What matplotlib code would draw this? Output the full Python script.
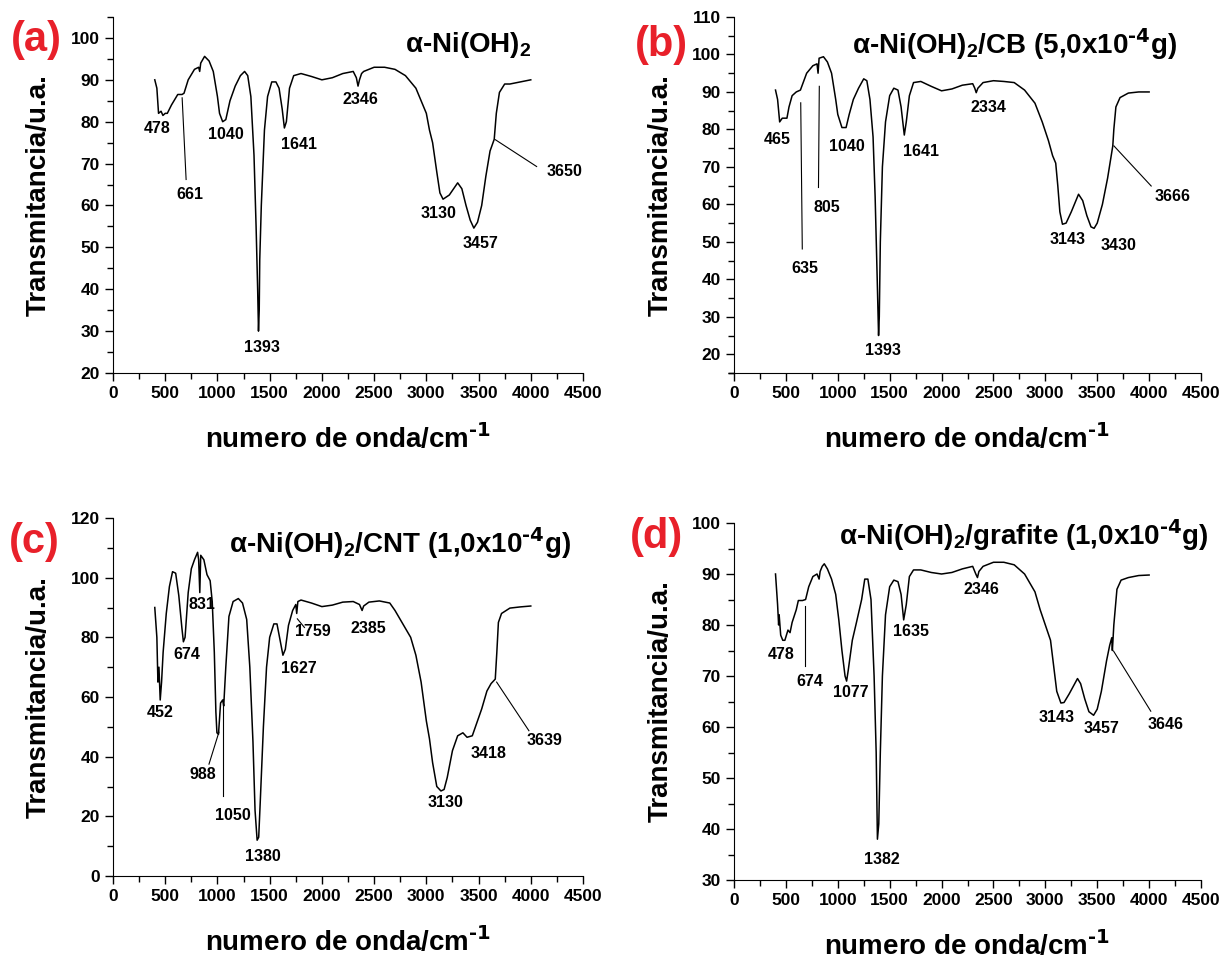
import matplotlib
matplotlib.use('Agg')
import matplotlib.pyplot as plt

plt.rcParams['font.family'] = ['Liberation Sans', 'DejaVu Sans']
plt.rcParams['font.weight'] = 'bold'
plt.rcParams['mathtext.default'] = 'regular'

# --- panel (a): alpha-Ni(OH)2 ---
xa = [400, 420, 436, 460, 478, 500, 520, 560, 620, 661, 680, 720, 780, 820, 830, 840, 877, 920, 960,
      1000, 1020, 1050, 1080, 1120, 1170, 1220, 1260, 1290, 1320, 1350, 1370, 1385, 1393, 1400, 1405,
      1420, 1450, 1480, 1520, 1560, 1590, 1620, 1641, 1660, 1690, 1730, 1800, 1900, 2000, 2100, 2200,
      2300, 2330, 2346, 2360, 2380, 2400, 2500, 2600, 2700, 2800, 2900, 2950, 3000, 3030, 3060, 3100,
      3130, 3160, 3220, 3300, 3340, 3380, 3420, 3455, 3490, 3530, 3570, 3610, 3650, 3670, 3700, 3750,
      3800, 3900, 4000]
ya = [90, 88, 82, 82.5, 81.5, 82, 82, 84, 86.5, 86.5, 86.8, 90, 92.5, 93, 92, 94, 95.6, 94.5, 92,
      86, 82, 80, 80.5, 85, 88.5, 91, 92, 91, 86, 72, 55, 40, 30, 35, 47,
      60, 78, 86, 89.5, 89.5, 88, 83, 78.5, 80, 88, 91, 91.5, 90.8, 90, 90.5, 91.5,
      92, 90.5, 88.5, 90, 91.5, 92, 93, 93, 92.5, 91, 88, 85, 82, 78, 75, 68,
      63, 61.5, 62.5, 65.4, 64, 60, 56.5, 54.6, 56, 60, 67, 73, 75.8, 82, 87, 89,
      89, 89.5, 90]

# --- panel (b): alpha-Ni(OH)2/CB ---
xb = [400, 420, 440, 465, 480, 510, 530, 560, 600, 640, 660, 700, 760, 800, 810, 820, 862, 900, 940,
      980, 1000, 1040, 1080, 1110, 1150, 1200, 1250, 1280, 1310, 1340, 1360, 1380, 1393, 1400, 1410,
      1430, 1460, 1500, 1540, 1580, 1610, 1641, 1660, 1690, 1730, 1800, 1900, 2000, 2100, 2200, 2300,
      2320, 2334, 2350, 2400, 2500, 2600, 2700, 2800, 2900, 2970, 3030, 3070, 3100, 3120, 3140, 3165,
      3200, 3250, 3320, 3360, 3400, 3440, 3470, 3500, 3550, 3600, 3650, 3660, 3680, 3720, 3800, 3900,
      4000]
yb = [90.5, 88, 82, 83, 83, 83, 86, 89, 90, 90.5, 92, 95, 97, 97.5, 95, 99, 99.4, 98, 95,
      88, 84, 80.5, 80.5, 84, 88, 91, 93.5, 93, 88, 78, 62, 40, 25, 30, 50,
      70, 82, 89, 91, 90.5, 86, 78.5, 82, 89, 92.5, 92.8, 91.5, 90.3, 90.8, 91.8, 92.2,
      91, 89.8, 91, 92.5, 93, 92.8, 92.5, 90.5, 87, 82, 77, 73, 71, 65, 58, 54.7,
      55, 58, 62.7, 61, 57, 54, 53.6, 55, 60, 67, 75.6, 80, 86, 88.5, 89.7, 90,
      90]

# --- panel (c): alpha-Ni(OH)2/CNT ---
xc = [400, 420, 430, 440, 452, 465, 480, 510, 540, 570, 600, 630, 660, 674, 690, 720, 750, 780, 810,
      820, 831, 840, 870, 900, 930, 950, 970, 985, 995, 1010, 1030, 1050, 1060, 1080, 1110, 1150, 1200,
      1240, 1280, 1310, 1340, 1360, 1380, 1395, 1410, 1440, 1470, 1500, 1540, 1570, 1600, 1627, 1650,
      1680, 1720, 1750, 1759, 1770, 1800, 1900, 2000, 2100, 2200, 2300, 2360, 2385, 2400, 2450, 2550,
      2650, 2700, 2750, 2800, 2850, 2900, 2950, 3000, 3030, 3060, 3100, 3140, 3170, 3200, 3250, 3300,
      3350, 3390, 3440, 3480, 3530, 3580, 3620, 3660, 3675, 3690, 3720, 3800, 3900, 4000]
yc = [90, 80, 65, 70, 59, 65, 75, 88, 97, 102, 101.5, 94, 83, 78.5, 80, 95, 103, 106, 108.5,
      106, 95, 107.5, 106, 101, 99, 92, 75, 55, 48, 47.5, 58, 59, 57, 70, 87, 92, 93,
      91.5, 86, 70, 45, 22, 12, 13, 25, 50, 70, 80, 84.5, 84.5, 79, 74, 76,
      84, 89, 91, 88, 92, 92.5, 91.5, 90.3, 90.8, 91.8, 92, 91, 89, 90.5, 91.8, 92.2,
      91.5, 89, 86, 83, 80, 74, 65, 52, 46, 38, 30, 28.5, 29, 33, 42, 47,
      48, 46.5, 47, 51, 56, 62, 64.5, 66, 75, 85, 88, 89.8, 90.2, 90.5]

# --- panel (d): alpha-Ni(OH)2/grafite ---
xd = [400, 420, 430, 435, 450, 470, 490, 520, 540, 560, 600, 620, 660, 690, 720, 760, 800, 820, 830,
      850, 870, 900, 940, 980, 1010, 1040, 1070, 1085, 1100, 1140, 1180, 1230, 1260, 1290, 1320, 1350,
      1370, 1382, 1395, 1410, 1430, 1460, 1500, 1540, 1580, 1610, 1635, 1660, 1690, 1730, 1800, 1900,
      2000, 2100, 2200, 2300, 2330, 2346, 2360, 2400, 2500, 2600, 2700, 2800, 2900, 2950, 3000, 3050,
      3080, 3110, 3150, 3180, 3230, 3310, 3340, 3380, 3420, 3465, 3500, 3540, 3590, 3620, 3640, 3646,
      3660, 3690, 3730, 3800, 3900, 4000]
yd = [90, 84, 80, 82, 78, 77, 77, 79, 78.5, 80.5, 83, 84.8, 84.8, 85, 87.5, 89.5, 90, 89, 90.5,
      91.5, 92, 91, 89, 86, 81, 75, 70, 69, 71, 77, 80.5, 85, 89, 89, 85, 70,
      55, 38, 41, 55, 70, 82, 87.5, 88.8, 88.5, 86, 81, 84, 89.5, 90.8, 90.8, 90.3,
      90, 90.3, 91, 91.5, 90, 89.3, 90.5, 91.5, 92.3, 92.3, 91.8, 90, 86.5, 83, 80, 77,
      72, 67, 64.7, 64.8, 66.5, 69.5, 68.5, 65.5, 63, 62.3, 63.5, 67, 73, 76, 77.5, 75,
      80, 87, 88.8, 89.3, 89.7, 89.8]

titles = [r'α-Ni(OH)$_2$', r'α-Ni(OH)$_2$/CB (5,0x10$^{\text{-4}}$g)',
          r'α-Ni(OH)$_2$/CNT (1,0x10$^{\text{-4}}$g)', r'α-Ni(OH)$_2$/grafite (1,0x10$^{\text{-4}}$g)']
letters = ['(a)', '(b)', '(c)', '(d)']
title_xy = [(3400, 98.4), (2700, 102.6), (2750, 111.4), (2790, 97.5)]

# peak labels: (text, x, y)
labels_a = [('478', 418, 78.3), ('661', 737, 62.7), ('1040', 1076, 76.9), ('1641', 1780, 74.5),
            ('2346', 2371, 85.4), ('1393', 1430, 26.0), ('3130', 3116, 58.0), ('3457', 3522, 51.0),
            ('3650', 4320, 68.0)]
labels_b = [('465', 416, 77.2), ('635', 681, 42.9), ('805', 893, 59.2), ('1040', 1089, 75.4),
            ('1641', 1800, 74.2), ('2334', 2451, 85.8), ('1393', 1437, 21.0), ('3143', 3214, 50.7),
            ('3430', 3704, 49.1), ('3666', 4228, 62.0)]
labels_c = [('452', 451, 54.9), ('674', 706, 74.3), ('831', 849, 91.0), ('988', 856, 34.0),
            ('1050', 1146, 20.4), ('1380', 1435, 6.5), ('1627', 1784, 69.6), ('1759', 1915, 82.0),
            ('2385', 2441, 83.0), ('3130', 3181, 24.5), ('3418', 3598, 41.2), ('3639', 4131, 45.4)]
labels_d = [('478', 454, 74.2), ('674', 726, 68.9), ('1077', 1123, 66.8), ('1382', 1426, 34.1),
            ('1635', 1709, 78.7), ('2346', 2383, 86.9), ('3143', 3109, 61.8), ('3457', 3544, 59.8),
            ('3646', 4160, 60.4)]

# leader lines: (x0, y0, x1, y1)
leaders_a = [(662, 85.7, 700, 66.2), (3661, 75.7, 4056, 69.3)]
leaders_b = [(643, 87.1, 658, 48.1), (822, 91.5, 814, 64.5), (3661, 75.6, 4020, 64.9)]
leaders_c = [(1014, 48.2, 919, 37.5), (1055, 59.4, 1055, 26.8), (1765, 86.2, 1833, 83.3),
             (3673, 65.0, 3982, 48.7)]
leaders_d = [(681, 83.7, 681, 72.0), (3657, 74.9, 4016, 63.1)]

ylims = [(20, 105), (15, 110), (0, 120), (30, 100)]
ysteps = [10, 10, 20, 10]
W, H = 1223, 960
# axes boxes in pixels: left, top, right, bottom
boxes = [(113, 17, 583, 373), (734, 17, 1201, 373), (113, 518, 583, 876), (734, 523, 1201, 880)]
letter_px = [(36, 40), (661, 45), (34, 542), (657, 537)]

curves = [(xa, ya), (xb, yb), (xc, yc), (xd, yd)]
all_labels = [labels_a, labels_b, labels_c, labels_d]
all_leaders = [leaders_a, leaders_b, leaders_c, leaders_d]

fig = plt.figure(figsize=(W / 100, H / 100), dpi=100)

for i in range(4):
    l, t, r, b = boxes[i]
    ax = fig.add_axes([l / W, 1 - b / H, (r - l) / W, (b - t) / H])
    x, y = curves[i]
    ax.plot(x, y, color='black', lw=1.1)
    for x0, y0, x1, y1 in all_leaders[i]:
        ax.plot([x0, x1], [y0, y1], color='black', lw=0.8)
    for txt, tx, ty in all_labels[i]:
        ax.text(tx, ty, txt, fontsize=11.5, fontweight='bold', ha='center', va='center',
                family=['Liberation Sans Narrow', 'Liberation Sans'])
    ax.text(title_xy[i][0], title_xy[i][1], titles[i], fontsize=20, fontweight='bold',
            ha='center', va='center')
    ax.set_xlim(0, 4500)
    ax.set_ylim(*ylims[i])
    lo, hi = ylims[i]
    st = ysteps[i]
    major = [v for v in range(0, 121, st) if lo <= v <= hi]
    minor = [v + st / 2 for v in range(0, 121, st) if lo <= v + st / 2 <= hi]
    minor += [v - st / 2 for v in major[:1] if v - st / 2 >= lo]
    ax.set_yticks(major)
    ax.set_yticks(minor, minor=True)
    ax.set_xticks(range(0, 4501, 500))
    ax.set_xticks(range(250, 4500, 500), minor=True)
    ax.spines['top'].set_visible(False)
    ax.spines['right'].set_visible(False)
    ax.tick_params(axis='both', which='major', direction='out', length=6, labelsize=12.5, width=1)
    ax.tick_params(axis='both', which='minor', direction='out', length=4, width=1)
    for lab in ax.get_xticklabels() + ax.get_yticklabels():
        lab.set_fontweight('bold')
    ax.set_xlabel(r'numero de onda/cm$^{\text{-1}}$', fontsize=20, fontweight='bold', labelpad=16)
    ax.set_ylabel('Transmitancia/u.a.', fontsize=20, fontweight='bold')
    ax.yaxis.set_label_coords(-0.13, 0.5)
    lx, ly = letter_px[i]
    fig.text(lx / W, 1 - ly / H, letters[i], color='#e8202a',
             fontsize=30, fontweight='bold', ha='center', va='center')

fig.savefig('out.png', dpi=100)
